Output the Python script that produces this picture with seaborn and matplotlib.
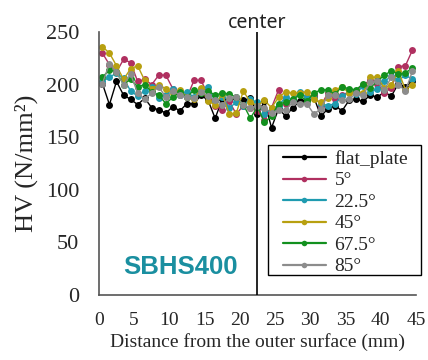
import numpy as np
import pandas as pd
import seaborn as sns
import matplotlib.pyplot as plt
from matplotlib.patches import Rectangle

# measurement positions (mm), one every 1 mm
positions = np.arange(45) + 0.5

flat_plate = [201, 181, 203, 190, 186, 181, 187, 178, 176, 173, 179, 175, 182, 182, 190,
              185, 168, 186, 185, 187, 185, 187, 172, 184, 159, 177, 170, 178, 184, 186,
              188, 170, 177, 180, 175, 185, 186, 184, 190, 188, 193, 189, 201, 198, 203]
deg5 = [230, 219, 212, 224, 221, 203, 205, 200, 209, 209, 196, 190, 188, 204, 204,
        190, 180, 176, 184, 172, 180, 178, 175, 166, 178, 195, 182, 185, 192, 188,
        190, 180, 192, 186, 190, 193, 194, 200, 204, 201, 192, 197, 217, 218, 233]
deg22_5 = [203, 207, 211, 206, 194, 189, 194, 198, 187, 190, 196, 190, 193, 188, 196,
           198, 184, 188, 178, 183, 180, 186, 183, 172, 177, 180, 188, 185, 193, 188,
           187, 182, 180, 182, 189, 193, 191, 199, 193, 196, 203, 208, 204, 209, 205]
deg45 = [236, 230, 218, 205, 215, 218, 204, 196, 200, 196, 192, 195, 188, 186, 197,
         184, 181, 191, 172, 173, 194, 183, 180, 185, 178, 188, 193, 192, 192, 193,
         186, 183, 187, 195, 198, 192, 194, 192, 207, 207, 197, 200, 213, 195, 200]
deg67_5 = [207, 214, 212, 200, 205, 198, 200, 193, 190, 182, 188, 193, 188, 195, 192,
           194, 190, 192, 191, 188, 181, 168, 179, 164, 170, 182, 183, 186, 190, 184,
           192, 195, 195, 191, 198, 196, 195, 201, 197, 203, 209, 213, 210, 211, 216]
deg85 = [201, 220, 212, 200, 210, 192, 186, 192, 198, 188, 194, 190, 188, 187, 193,
         189, 185, 181, 187, 188, 181, 178, 180, 178, 173, 176, 176, 183, 182, 182,
         172, 177, 190, 190, 185, 186, 192, 190, 202, 203, 195, 207, 200, 194, 213]

labels = ['flat_plate', '5°', '22.5°', '45°', '67.5°', '85°']
colors = ['#000000', '#B03060', '#1F9BB0', '#B8A010', '#12901E', '#8C8C8C']

series = [flat_plate, deg5, deg22_5, deg45, deg67_5, deg85]
df = pd.concat([pd.DataFrame({'x': positions, 'hv': s, 'series': lab})
                for s, lab in zip(series, labels)], ignore_index=True)

sns.set_style('white')
plt.rcParams['font.family'] = ['Liberation Serif', 'DejaVu Serif']

fig = plt.figure(figsize=(4.28, 3.6), dpi=100)
ax = fig.add_axes([0.231, 0.181, 0.741, 0.730])

sns.lineplot(data=df, x='x', y='hv', hue='series', hue_order=labels,
             palette=dict(zip(labels, colors)), marker='o', markersize=5,
             markeredgewidth=0, linewidth=1, ax=ax)

ax.axvline(22.5, color='black', linewidth=1.2, zorder=5)
ax.text(22.5, 254, 'center', ha='center', va='baseline', fontsize=14,
        family=['Noto Sans', 'DejaVu Sans'], color='#222222')
ax.text(3.5, 20, 'SBHS400', fontsize=18.5, fontweight='bold', color='#1A8FA0',
        family=['Liberation Sans', 'DejaVu Sans'])

ax.set_xlim(0, 45)
ax.set_ylim(0, 250)
ax.set_xticks(range(0, 46, 5))
ax.set_yticks(range(0, 251, 50))
ax.tick_params(direction='in', length=5, width=1, color='#333333')
ax.tick_params(axis='y', labelsize=16, pad=14)
ax.tick_params(axis='x', labelsize=14, pad=12)
for side in ['top', 'right']:
    ax.spines[side].set_visible(False)
for side in ['left', 'bottom']:
    ax.spines[side].set_color('#555555')
    ax.spines[side].set_linewidth(1.2)

ax.set_xlabel('Distance from the outer surface (mm)', fontsize=14, labelpad=3)
ax.set_ylabel('HV (N/mm²)', fontsize=19, labelpad=6)

# legend: frame drawn separately so the side padding can be wider than the top
leg = ax.legend(loc='upper left', bbox_to_anchor=(283 / 428, 1 - 150 / 360),
                bbox_transform=fig.transFigure, fontsize=14, frameon=False,
                handlelength=2.2, handletextpad=0.45, labelspacing=0.20,
                borderpad=0, borderaxespad=0, markerscale=0.8)
for line in leg.get_lines():
    line.set_linewidth(1.6)
leg.set_zorder(8)
ax.add_patch(Rectangle((268 / 428, 1 - 275 / 360), 153 / 428, 130 / 360,
                       transform=fig.transFigure, facecolor='white',
                       edgecolor='black', linewidth=1, zorder=7, clip_on=False))

fig.savefig('out.png', dpi=100)
